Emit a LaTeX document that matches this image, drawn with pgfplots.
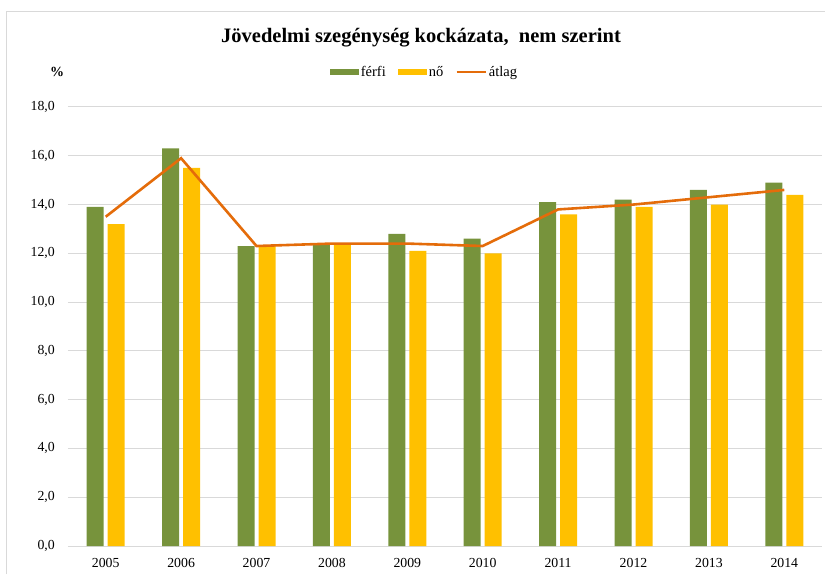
\documentclass[border=0pt]{standalone}
\usepackage{pgfplots}
\pgfplotsset{compat=1.18}
\usepackage{fontspec}
\setmainfont{Liberation Serif}
\definecolor{ferfi}{RGB}{119,147,60}
\definecolor{no}{RGB}{255,192,0}
\definecolor{atlag}{RGB}{228,108,10}
\definecolor{gridc}{RGB}{217,217,217}
\definecolor{framec}{RGB}{217,217,217}
\begin{document}
\begin{tikzpicture}[x=1pt,y=1pt]
\useasboundingbox (0,0) rectangle (825,574);
\draw[framec, line width=1pt] (6,0) -- (6,562) -- (825,562);
\node[anchor=base, font=\fontsize{20.5}{22}\selectfont\bfseries] at (421,531) {Jövedelmi szegénység kockázata,\ \ nem szerint};
\node[anchor=base, font=\fontsize{14}{16}\selectfont\bfseries] at (57,497.5) {\%};
\begin{axis}[
  at={(68pt,28pt)}, anchor=south west,
  width=754pt, height=439pt, scale only axis,
  xmin=-0.5, xmax=9.5, ymin=0, ymax=18,
  xtick={0,...,9},
  xticklabels={2005,2006,2007,2008,2009,2010,2011,2012,2013,2014},
  ytick={0,2,...,18},
  ymajorgrids, grid style={gridc, line width=1pt},
  axis line style={draw=none},
  major tick length=0pt,
  tick label style={font=\fontsize{13.8}{15}\selectfont, inner sep=0pt},
  xticklabel style={anchor=north, yshift=-12pt},
  yticklabel style={anchor=east, xshift=-13pt},
  /pgf/number format/.cd, fixed, fixed zerofill, precision=1, use comma, assume math mode=true,
  /pgfplots/.cd,
  legend columns=3,
  legend style={draw=none, fill=none, at={(0.4728,1.0797)}, anchor=center,
    font=\fontsize{14.5}{16}\selectfont, inner sep=0pt,
    /tikz/every even column/.append style={column sep=10pt}},
  legend cell align=left,
]
\addplot[ybar, bar width=17pt, bar shift=-10.5pt, fill=ferfi, draw=none,
  legend image code/.code={\fill[ferfi] (0pt,-3pt) rectangle (29pt,3pt);}]
  coordinates {(0,13.9) (1,16.3) (2,12.3) (3,12.4) (4,12.8) (5,12.6) (6,14.1) (7,14.2) (8,14.6) (9,14.9)};
\addlegendentry{férfi}
\addplot[ybar, bar width=17pt, bar shift=10.5pt, fill=no, draw=none,
  legend image code/.code={\fill[no] (0pt,-3pt) rectangle (29pt,3pt);}]
  coordinates {(0,13.2) (1,15.5) (2,12.3) (3,12.4) (4,12.1) (5,12.0) (6,13.6) (7,13.9) (8,14.0) (9,14.4)};
\addlegendentry{nő}
\addplot[sharp plot, atlag, line width=2.6pt, mark=none,
  legend image code/.code={\draw[atlag, line width=2.6pt] (0pt,0pt) -- (29pt,0pt);}]
  coordinates {(0,13.5) (1,15.9) (2,12.3) (3,12.4) (4,12.4) (5,12.3) (6,13.8) (7,14.0) (8,14.3) (9,14.6)};
\addlegendentry{átlag}
\end{axis}
\end{tikzpicture}
\end{document}
